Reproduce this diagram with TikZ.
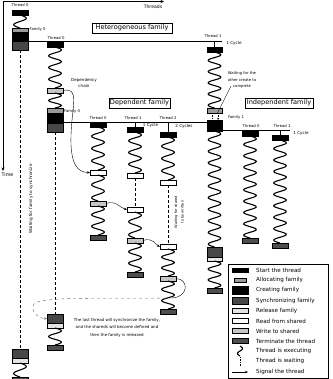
\documentclass[tikz,border=0pt]{standalone}
\usepackage{fontspec}
\setmainfont{DejaVu Sans}
\usetikzlibrary{arrows.meta}
\definecolor{allocc}{HTML}{9A9A9A}
\definecolor{syncc}{HTML}{474747}
\definecolor{relc}{HTML}{E4E4E4}
\definecolor{writec}{HTML}{C6C6C6}
\definecolor{termc}{HTML}{4E4E4E}
\tikzset{
 bxs/.style={draw=black, line width=0.4pt, inner sep=0pt, outer sep=0pt},
 startb/.style={bxs, fill=black},
 allocb/.style={bxs, fill=allocc},
 createb/.style={bxs, fill=black},
 syncb/.style={bxs, fill=syncc},
 relb/.style={bxs, fill=relc},
 readb/.style={bxs, fill=white},
 writeb/.style={bxs, fill=writec},
 termb/.style={bxs, fill=termc},
 squigline/.style={line width=1.1pt, black},
 waitline/.style={line width=1pt, dash pattern=on 3pt off 2pt},
 shortwait/.style={line width=0.6pt, dash pattern=on 1.5pt off 1pt},
 sig/.style={line width=0.4pt, -{Stealth[length=3pt,width=2.4pt]}},
 axis/.style={line width=0.5pt, -{Stealth[length=3.5pt,width=3pt]}},
 tick/.style={line width=0.4pt},
 lbl/.style={font=\fontsize{3.8}{6.8}\selectfont, inner sep=0pt},
 titlebox/.style={draw, line width=0.5pt, font=\fontsize{6.6}{7.5}\selectfont, inner sep=0pt, minimum height=10pt},
 leg/.style={font=\fontsize{5.6}{6.5}\selectfont, anchor=west, inner sep=0pt},
}
\newcommand\bx[6]{%
 \pgfmathsetmacro\bxw{#5-#3}\pgfmathsetmacro\bxh{#6-#4}%
 \pgfmathsetmacro\bxcx{(#3+#5)/2}\pgfmathsetmacro\bxcy{(#4+#6)/2}%
 \node[#2, minimum width=\bxw pt, minimum height=\bxh pt] (#1) at (\bxcx,\bxcy) {};}
\newcommand\squigA[4]{%
 \pgfmathsetmacro\sqn{max(1,round((#4-#3)/5.8))}%
 \pgfmathsetmacro\sqf{180*\sqn/(#4-#3)}%
 \draw[squigline] plot[domain=#3:#4, samples=140] ({#2+#1*sin(\sqf*(\x-#3))},\x);}
\newcommand\squig[3]{\squigA{6.3}{#1}{#2}{#3}}
\begin{document}
\begin{tikzpicture}[x=1pt,y=-1pt]
\useasboundingbox (0,0) rectangle (332,379);
% axes
\coordinate (orig) at (3,1.5);
\coordinate (thrEnd) at (164,1.5);
\coordinate (timeEnd) at (3,171);
\draw[axis] (orig) -- (thrEnd);
\draw[axis] (orig) -- (timeEnd);
\node[lbl, font=\fontsize{4.6}{5}\selectfont] (threadsL) at (153,7) {Threads};
\node[lbl, font=\fontsize{4.8}{5}\selectfont] (timeL) at (7.5,175) {Time};
% titles
\node[titlebox, minimum width=80pt] (hetT) at (132,28) {Heterogeneous family};
\node[titlebox, minimum width=61pt] (depT) at (139.5,103) {Dependent family};
\node[titlebox, minimum width=68pt] (indT) at (279,103) {Independent family};
% ---------- column A
\node[lbl] (aT0) at (20,5.5) {Thread 0};
\bx{aS}{startb}{12}{10}{28}{15}
\squig{20}{15}{28}
\bx{aA}{allocb}{12}{28}{28}{32}
\bx{aC}{createb}{12}{32}{28}{41}
\bx{aY}{syncb}{12}{41}{28}{50}
\node[lbl, anchor=west] (aF0) at (29.5,29) {Family 0};
\bx{aY2}{syncb}{12}{349}{28}{358}
\bx{aR}{relb}{12}{358}{28}{363}
\squig{20}{363}{377}
\bx{aE}{termb}{12}{377}{28}{382}
\draw[waitline] (aY.south) -- (aY2.north);
\node[lbl, rotate=90, font=\fontsize{4.2}{5}\selectfont] (aWait) at (31,199) {Waiting for family to synchronize};
% heterogeneous line
\coordinate (hetL) at (28,41.5);
\coordinate (hetR) at (222,41.5);
\draw[tick] (hetL) -- (hetR);
% ---------- column B
\node[lbl] (bT0) at (56,38) {Thread 0};
\bx{bS}{startb}{47}{42}{63}{47}
\squig{55}{47}{88}
\bx{bW}{writeb}{47}{88}{63}{93}
\node[lbl, align=center, font=\fontsize{4.1}{6.6}\selectfont] (dchain) at (84,83) {Dependency\\chain};
\squig{55}{93}{108}
\bx{bA}{allocb}{47}{108}{63}{113}
\bx{bC}{createb}{47}{113}{63}{123}
\bx{bY}{syncb}{47}{123}{63}{132}
\node[lbl, anchor=west] (bF0) at (64,111) {Family 0};
\bx{bY2}{syncb}{47}{314}{63}{323}
\bx{bR}{relb}{47}{323}{63}{328}
\squig{55}{328}{345}
\bx{bE}{termb}{47}{345}{63}{350}
\draw[waitline] (bY.south) -- (bY2.north);
% dependent family line
\coordinate (depL) at (63,122);
\coordinate (depR) at (207,122);
\draw[tick] (depL) -- (depR);
% ---------- column D (Thread 1 / Family 1)
\node[lbl] (dT1) at (213,36) {Thread 1};
\bx{dS}{startb}{207}{47}{222}{52}
\draw[tick] (dS.north |- hetR) -- (dS.north);
\node[lbl, font=\fontsize{4.1}{5}\selectfont] (dCyc) at (234,43.5) {1 Cycle};
\squig{214.5}{52}{108}
\bx{dA}{allocb}{207}{108}{222}{113}
\bx{dC}{createb}{207}{120}{222}{131}
\draw[shortwait] ([xshift=5pt]dA.south west) -- ([xshift=5pt]dC.north west);
\draw[shortwait, -{Stealth[length=1.8pt,width=1.6pt]}] ([xshift=11pt]dA.south west) -- ([xshift=11pt]dC.north west);
\node[lbl, align=center] (wtxt) at (242,80) {Waiting for the\\other create to\\complete};
\coordinate (wline) at (231,86);
\draw[tick] (wline) -- ([xshift=10pt,yshift=-1pt]dA.south west);
\node[lbl] (dF1) at (236,117) {Family 1};
\squig{214.5}{131}{247}
\bx{dY}{syncb}{207}{247}{222}{257}
\bx{dR}{relb}{207}{257}{222}{261}
\squig{214.5}{261}{288}
\bx{dE}{termb}{207}{288}{222}{293}
% family 1 line
\coordinate (f1L) at (222,130.5);
\coordinate (f1R) at (290,130.5);
\draw[tick] (f1L) -- (f1R);
% ---------- independent family
\node[lbl] (iT0) at (251,126.5) {Thread 0};
\bx{i0S}{startb}{242}{131}{258}{136}
\squig{250}{136}{238}
\bx{i0E}{termb}{242}{238}{258}{243}
\node[lbl] (iT1) at (282,126.5) {Thread 1};
\bx{i1S}{startb}{272}{135}{288}{140}
\draw[tick] (i1S.north |- f1L) -- (i1S.north);
\node[lbl, font=\fontsize{4.1}{5}\selectfont] (iCyc) at (301,133) {1 Cycle};
\squig{280}{140}{243}
\bx{i1E}{termb}{272}{243}{288}{248}
% ---------- dependent thread 0
\node[lbl] (t0L) at (98,118) {Thread 0};
\bx{t0S}{startb}{90}{122}{106}{127}
\squig{98}{127}{170}
\bx{t0R}{readb}{90}{170}{106}{175}
\squig{98}{175}{201}
\bx{t0W}{writeb}{90}{201}{106}{206}
\squig{98}{206}{235}
\bx{t0E}{termb}{90}{235}{106}{240}
% ---------- dependent thread 1
\node[lbl] (t1L) at (133,118) {Thread 1};
\bx{t1S}{startb}{127}{127}{143}{132}
\draw[tick] (t1S.north |- depL) -- (t1S.north);
\node[lbl, font=\fontsize{4.1}{5}\selectfont] (t1Cyc) at (150.5,125.5) {1 Cycle};
\squig{135}{132}{173}
\bx{t1R}{readb}{127}{173}{143}{178}
\bx{t1R2}{readb}{127}{207}{143}{212}
\draw[waitline] (t1R.south) -- (t1R2.north);
\squig{135}{212}{238}
\bx{t1W}{writeb}{127}{238}{143}{243}
\squig{135}{243}{272}
\bx{t1E}{termb}{127}{272}{143}{277}
% ---------- dependent thread 2
\node[lbl] (t2L) at (168,118) {Thread 2};
\bx{t2S}{startb}{160}{132}{176}{137}
\draw[tick] (t2S.north |- depL) -- (t2S.north);
\node[lbl, font=\fontsize{4.1}{5}\selectfont] (t2Cyc) at (184,126) {2 Cycles};
\squig{168}{137}{180}
\bx{t2R}{readb}{160}{180}{176}{185}
\bx{t2R2}{readb}{160}{244}{176}{249}
\draw[waitline] (t2R.south) -- (t2R2.north);
\node[lbl, rotate=90, align=center, font=\fontsize{3.5}{6.5}\selectfont] (t2wait) at (179,212) {Waiting for shared\\to be written};
\squig{168}{249}{276}
\bx{t2W}{writeb}{160}{276}{176}{281}
\squig{168}{281}{309}
\bx{t2E}{termb}{160}{309}{176}{314}
% ---------- signals
\draw[sig] (bW.east) .. controls (80,87) and (72,105) .. (71,135) .. controls (70,165) and (78,172.5) .. (t0R.west);
\draw[sig] (t0W.east) .. controls (116,200) and (120,208) .. (t1R2.west);
\draw[sig] (t1W.east) .. controls (153,237) and (156,245) .. (t2R2.west);
\coordinate (loopE) at (172,298);
\draw[tick] (t2W.east) .. controls (189,279) and (189,297) .. (loopE);
\draw[sig, dashed, draw=black!60] (loopE) .. controls (110,299) and (40,296) .. (34,304) .. controls (30,311) and (38,318.5) .. (bY2.west);
\node[lbl, align=center, font=\fontsize{4}{7.5}\selectfont] (lastTxt) at (117,327.5) {The last thread will synchronize the family,\\and the shareds will become defined and\\then the family is released};
% ---------- legend
\node[draw, line width=0.5pt, minimum width=100pt, minimum height=114pt, inner sep=0pt] (legbox) at (278,321) {};
\bx{lS}{startb}{232}{268}{248}{272}
\bx{lA}{allocb}{234}{278}{246}{282}
\bx{lC}{createb}{232}{286}{248}{294}
\bx{lY}{syncb}{232}{297}{248}{304}
\bx{lR}{relb}{232}{308.5}{248}{313}
\bx{lRd}{readb}{232}{318.5}{248}{323}
\bx{lW}{writeb}{232}{328.5}{248}{333}
\bx{lE}{termb}{232}{338.5}{248}{343}
\squigA{2.5}{240}{346}{356}
\coordinate (lwTop) at (240,356.5);
\coordinate (lwBot) at (240,366);
\draw[shortwait] (lwTop) -- (lwBot);
\coordinate (lsL) at (232,372);
\coordinate (lsR) at (248,372);
\draw[sig] (lsL) -- (lsR);
\node[leg] (ltS) at (256,270) {Start the thread};
\node[leg] (ltA) at (256,280) {Allocating family};
\node[leg] (ltC) at (256,290) {Creating family};
\node[leg] (ltY) at (256,300.5) {Synchronizing family};
\node[leg] (ltR) at (256,311) {Release family};
\node[leg] (ltRd) at (256,321) {Read from shared};
\node[leg] (ltW) at (256,331) {Write to shared};
\node[leg] (ltE) at (256,341) {Terminate the thread};
\node[leg] (ltX) at (256,351) {Thread is executing};
\node[leg] (ltWt) at (256,361) {Thread is waiting};
\node[leg] (ltSg) at (256,371.5) {Signal the thread};
\end{tikzpicture}
\end{document}
